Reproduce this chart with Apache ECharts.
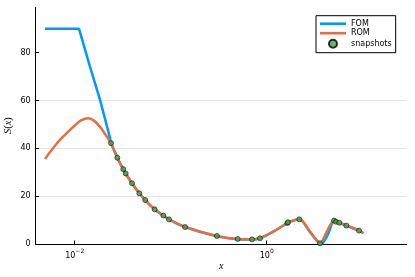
<!DOCTYPE html>
<html><head><meta charset="utf-8">
<script src="https://cdn.jsdelivr.net/npm/echarts@6/dist/echarts.min.js"></script>
<style>html,body{margin:0;padding:0;background:#fff}#c{width:415px;height:277px}</style>
</head><body><div id="c"></div>
<script>
// FOM: flat start + steep descent (sharp corner)
const fomHeadX = [0.00491, 0.0111, 0.0144, 0.01837, 0.02333, 0.02388];
const fomHeadY = [90, 90, 74.3, 60.3, 44.4, 42.2];
// FOM: remainder (smooth)
const fomTailX = [0.02388, 0.0278, 0.03206, 0.03396, 0.03954, 0.0471, 0.0543, 0.0681, 0.0838, 0.0959, 0.141, 0.303, 0.499, 0.703, 0.851, 1.172, 1.641, 1.667, 2.188, 2.825, 3.715, 4.365, 5.023, 5.272, 5.702, 6.745, 9.141, 10.14];
const fomTailY = [42.2, 36.1, 31.3, 29.5, 25.4, 21.2, 18.4, 14.5, 11.9, 10.3, 7.1, 3.2, 2.0, 1.9, 2.4, 5.2, 8.8, 9.1, 10.3, 5.0, 0.1, 4.2, 9.8, 9.3, 8.9, 7.7, 5.6, 4.5];
// ROM
const romX = [0.00491, 0.00589, 0.00703, 0.00832, 0.00966, 0.01175, 0.01387, 0.01585, 0.01837, 0.02089, 0.02388, 0.0278, 0.03206, 0.03396, 0.03954, 0.0471, 0.0543, 0.0681, 0.0838, 0.0959, 0.141, 0.303, 0.499, 0.703, 0.851, 1.172, 1.641, 1.667, 2.188, 2.825, 3.589, 4.217, 5.023, 5.272, 5.702, 6.745, 9.141, 10.14];
const romY = [35.6, 39.8, 43.6, 46.5, 49.0, 51.8, 52.6, 51.6, 49.0, 45.8, 42.2, 36.1, 31.3, 29.5, 25.4, 21.2, 18.4, 14.5, 11.9, 10.3, 7.1, 3.35, 2.1, 1.96, 2.4, 5.2, 8.8, 9.1, 10.3, 5.2, 0.3, 5.2, 9.8, 9.3, 8.9, 7.7, 5.6, 4.5];
// snapshots
const snapX = [0.02388, 0.0278, 0.03206, 0.03396, 0.03954, 0.0471, 0.0543, 0.0681, 0.0838, 0.0959, 0.141, 0.303, 0.499, 0.703, 0.851, 1.641, 1.667, 2.188, 3.589, 5.023, 5.272, 5.702, 6.745, 9.141];
const snapY = [42.2, 36.1, 31.3, 29.5, 25.4, 21.2, 18.4, 14.5, 11.9, 10.3, 7.1, 3.35, 2.1, 1.96, 2.4, 8.8, 9.1, 10.3, 0.3, 9.8, 9.3, 8.9, 7.7, 5.6];
// ticks
const xTicks = [0.01, 1];
const xTickExp = ['\u22122', '0'];
const yTicks = [0, 20, 40, 60, 80];

const zip = (a, b) => a.map((v, i) => [v, b[i]]);
const FONT = 'DejaVu Sans';
const LINE_ICON = 'path://M0,0H26V2.6H0Z';
const chart = echarts.init(document.getElementById('c'), null, {renderer: 'canvas'});
chart.setOption({
  animation: false,
  backgroundColor: '#fff',
  grid: {left: 35.7, right: 8.3, top: 7.3, bottom: 33, containLabel: false, outerBoundsMode: 'none'},
  legend: {
    left: 316, top: 15.7, orient: 'vertical',
    padding: [4, 4, 4, 4], itemGap: 1.5, itemWidth: 26, itemHeight: 8,
    borderColor: '#000', borderWidth: 1, backgroundColor: '#fff',
    textStyle: {fontFamily: FONT, fontSize: 8, color: '#000'},
    data: [
      {name: 'FOM', icon: LINE_ICON},
      {name: 'ROM', icon: LINE_ICON},
      {name: 'snapshots', icon: 'circle'}
    ]
  },
  xAxis: {
    type: 'log', logBase: 100, splitNumber: 2,
    min: 0.003926, max: 28.7,
    name: 'x', nameLocation: 'middle', nameGap: 17, nameMoveOverlap: false,
    nameTextStyle: {fontFamily: 'Liberation Serif', fontStyle: 'italic', fontSize: 10, color: '#000'},
    axisLine: {show: true, onZero: false, lineStyle: {color: '#000', width: 1}},
    axisTick: {show: true, inside: true, length: 3.5, customValues: xTicks, lineStyle: {color: '#000'}},
    axisLabel: {
      customValues: xTicks, margin: 4, color: '#000',
      formatter: (v) => { const i = xTicks.findIndex(t => Math.abs(t - v) / t < 1e-6); return '{b|10}{s|' + (i >= 0 ? xTickExp[i] : '') + '}'; },
      rich: {
        b: {fontFamily: FONT, fontSize: 8, color: '#000', verticalAlign: 'bottom', lineHeight: 12},
        s: {fontFamily: FONT, fontSize: 6, color: '#000', verticalAlign: 'top', lineHeight: 12}
      }
    },
    splitLine: {show: true, showMinLine: false, showMaxLine: false, lineStyle: {color: '#e6e6e6', width: 1}}
  },
  yAxis: {
    type: 'value', min: 0, max: 99, interval: 20,
    name: '{i|S}{r|(}{i|x}{r|)}', nameLocation: 'middle', nameGap: 22, nameRotate: 90, nameMoveOverlap: false,
    nameTextStyle: {
      rich: {
        i: {fontFamily: 'Liberation Serif', fontStyle: 'italic', fontSize: 10.5, color: '#000'},
        r: {fontFamily: 'Liberation Serif', fontSize: 10.5, color: '#000'}
      }
    },
    axisLine: {show: true, lineStyle: {color: '#000', width: 1}},
    axisTick: {show: true, inside: true, length: 3.5, customValues: yTicks, lineStyle: {color: '#000'}},
    axisLabel: {customValues: yTicks, margin: 5, fontFamily: FONT, fontSize: 8, color: '#000'},
    splitLine: {show: true, showMinLine: false, showMaxLine: false, lineStyle: {color: '#e6e6e6', width: 1}}
  },
  series: [
    {name: 'FOM', type: 'line', data: zip(fomHeadX, fomHeadY), showSymbol: false, symbol: 'none', smooth: false,
     lineStyle: {color: '#009AFA', width: 2.5}, itemStyle: {color: '#009AFA'}, z: 2},
    {name: 'FOM', type: 'line', data: zip(fomTailX, fomTailY), showSymbol: false, symbol: 'none', smooth: 0.3,
     lineStyle: {color: '#009AFA', width: 2.5}, itemStyle: {color: '#009AFA'}, z: 2},
    {name: 'ROM', type: 'line', data: zip(romX, romY), showSymbol: false, symbol: 'none', smooth: 0.3,
     lineStyle: {color: '#E36F47', width: 2.5}, itemStyle: {color: '#E36F47'}, z: 3},
    {name: 'snapshots', type: 'scatter', data: zip(snapX, snapY), symbol: 'circle', symbolSize: 5,
     itemStyle: {color: '#3EA44E', borderColor: '#000', borderWidth: 0.7}, z: 4}
  ]
});
</script></body></html>
